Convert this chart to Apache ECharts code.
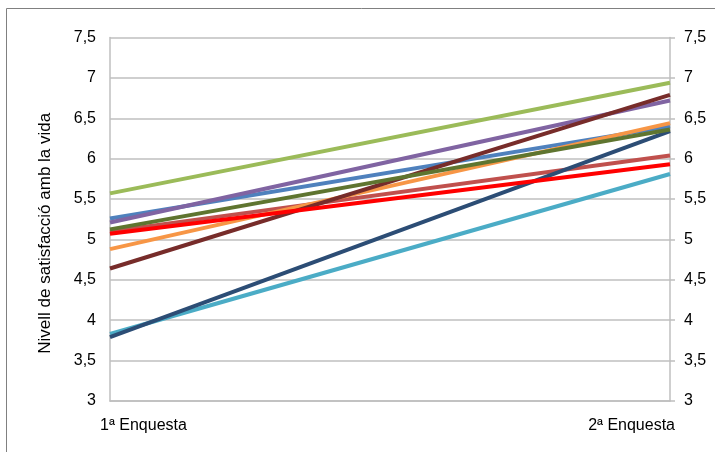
<!DOCTYPE html>
<html>
<head>
<meta charset="utf-8">
<script src="https://cdn.jsdelivr.net/npm/echarts@6/dist/echarts.min.js"></script>
<style>
  html, body { margin: 0; padding: 0; background: #fff; }
  #container { width: 715px; height: 452px; }
</style>
</head>
<body>
<div id="container"></div>
<script>
const categories = ['1ª Enquesta', '2ª Enquesta']
const yTicks = [3, 3.5, 4, 4.5, 5, 5.5, 6, 6.5, 7, 7.5]

const serieBlau = [5.26, 6.40]
const serieRosa = [5.10, 6.04]
const serieVerd = [5.57, 6.94]
const serieLila = [5.21, 6.72]
const serieAqua = [3.83, 5.81]
const serieTaronja = [4.88, 6.44]
const serieBlauFosc = [3.79, 6.34]
const serieGranat = [4.64, 6.79]
const serieOliva = [5.125, 6.36]
const serieVermell = [5.07, 5.93]

const seriesData = [serieBlau, serieRosa, serieVerd, serieLila, serieAqua,
  serieTaronja, serieBlauFosc, serieGranat, serieOliva, serieVermell]
const colors = ['#4F81BD', '#C0504D', '#9BBB59', '#8064A2', '#4BACC6',
  '#F79646', '#2C4D75', '#772C2A', '#5F7530', '#FF0000']

const fontFamily = '"Liberation Sans", Arial, sans-serif'
const fmt = v => String(v).replace('.', ',')

const chart = echarts.init(document.getElementById('container'), null, { renderer: 'canvas' })

const yAxisBase = {
  type: 'value',
  min: yTicks[0],
  max: yTicks[yTicks.length - 1],
  interval: 0.5,
  axisLine: { show: true, lineStyle: { color: '#bfbfbf', width: 1.5 } },
  axisLabel: { color: '#000', fontSize: 16, fontFamily: fontFamily, margin: 14, formatter: fmt }
}

const option = {
  animation: false,
  grid: { left: 110, right: 45, top: 37.5, bottom: 51 },
  graphic: [{
    type: 'rect',
    shape: { x: 6.5, y: 8.5, width: 720, height: 450 },
    style: { fill: 'none', stroke: '#808080', lineWidth: 1 },
    silent: true
  }],
  xAxis: {
    type: 'category',
    data: categories,
    boundaryGap: false,
    axisLine: { lineStyle: { color: '#bfbfbf', width: 1.5 } },
    axisTick: { show: false },
    axisLabel: {
      color: '#000', fontSize: 16, fontFamily: fontFamily, margin: 17,
      alignMinLabel: 'left', alignMaxLabel: 'right',
      padding: [0, -5, 0, -10]
    }
  },
  yAxis: [
    Object.assign({}, yAxisBase, {
      position: 'left',
      name: 'Nivell de satisfacció amb la vida',
      nameLocation: 'middle',
      nameGap: 56,
      nameTextStyle: { color: '#000', fontSize: 17, fontFamily: fontFamily, padding: [0, 28, 0, 0] },
      axisTick: { show: false },
      splitLine: { lineStyle: { color: '#bfbfbf', width: 1.5 } }
    }),
    Object.assign({}, yAxisBase, {
      position: 'right',
      axisTick: { show: true, length: 5, lineStyle: { color: '#bfbfbf', width: 1.5 } },
      splitLine: { show: false }
    })
  ],
  series: seriesData.map((d, i) => ({
    type: 'line',
    data: d,
    yAxisIndex: 0,
    symbol: 'none',
    lineStyle: { color: colors[i], width: 4 },
    z: 2 + i
  }))
}

chart.setOption(option)
</script>
</body>
</html>
